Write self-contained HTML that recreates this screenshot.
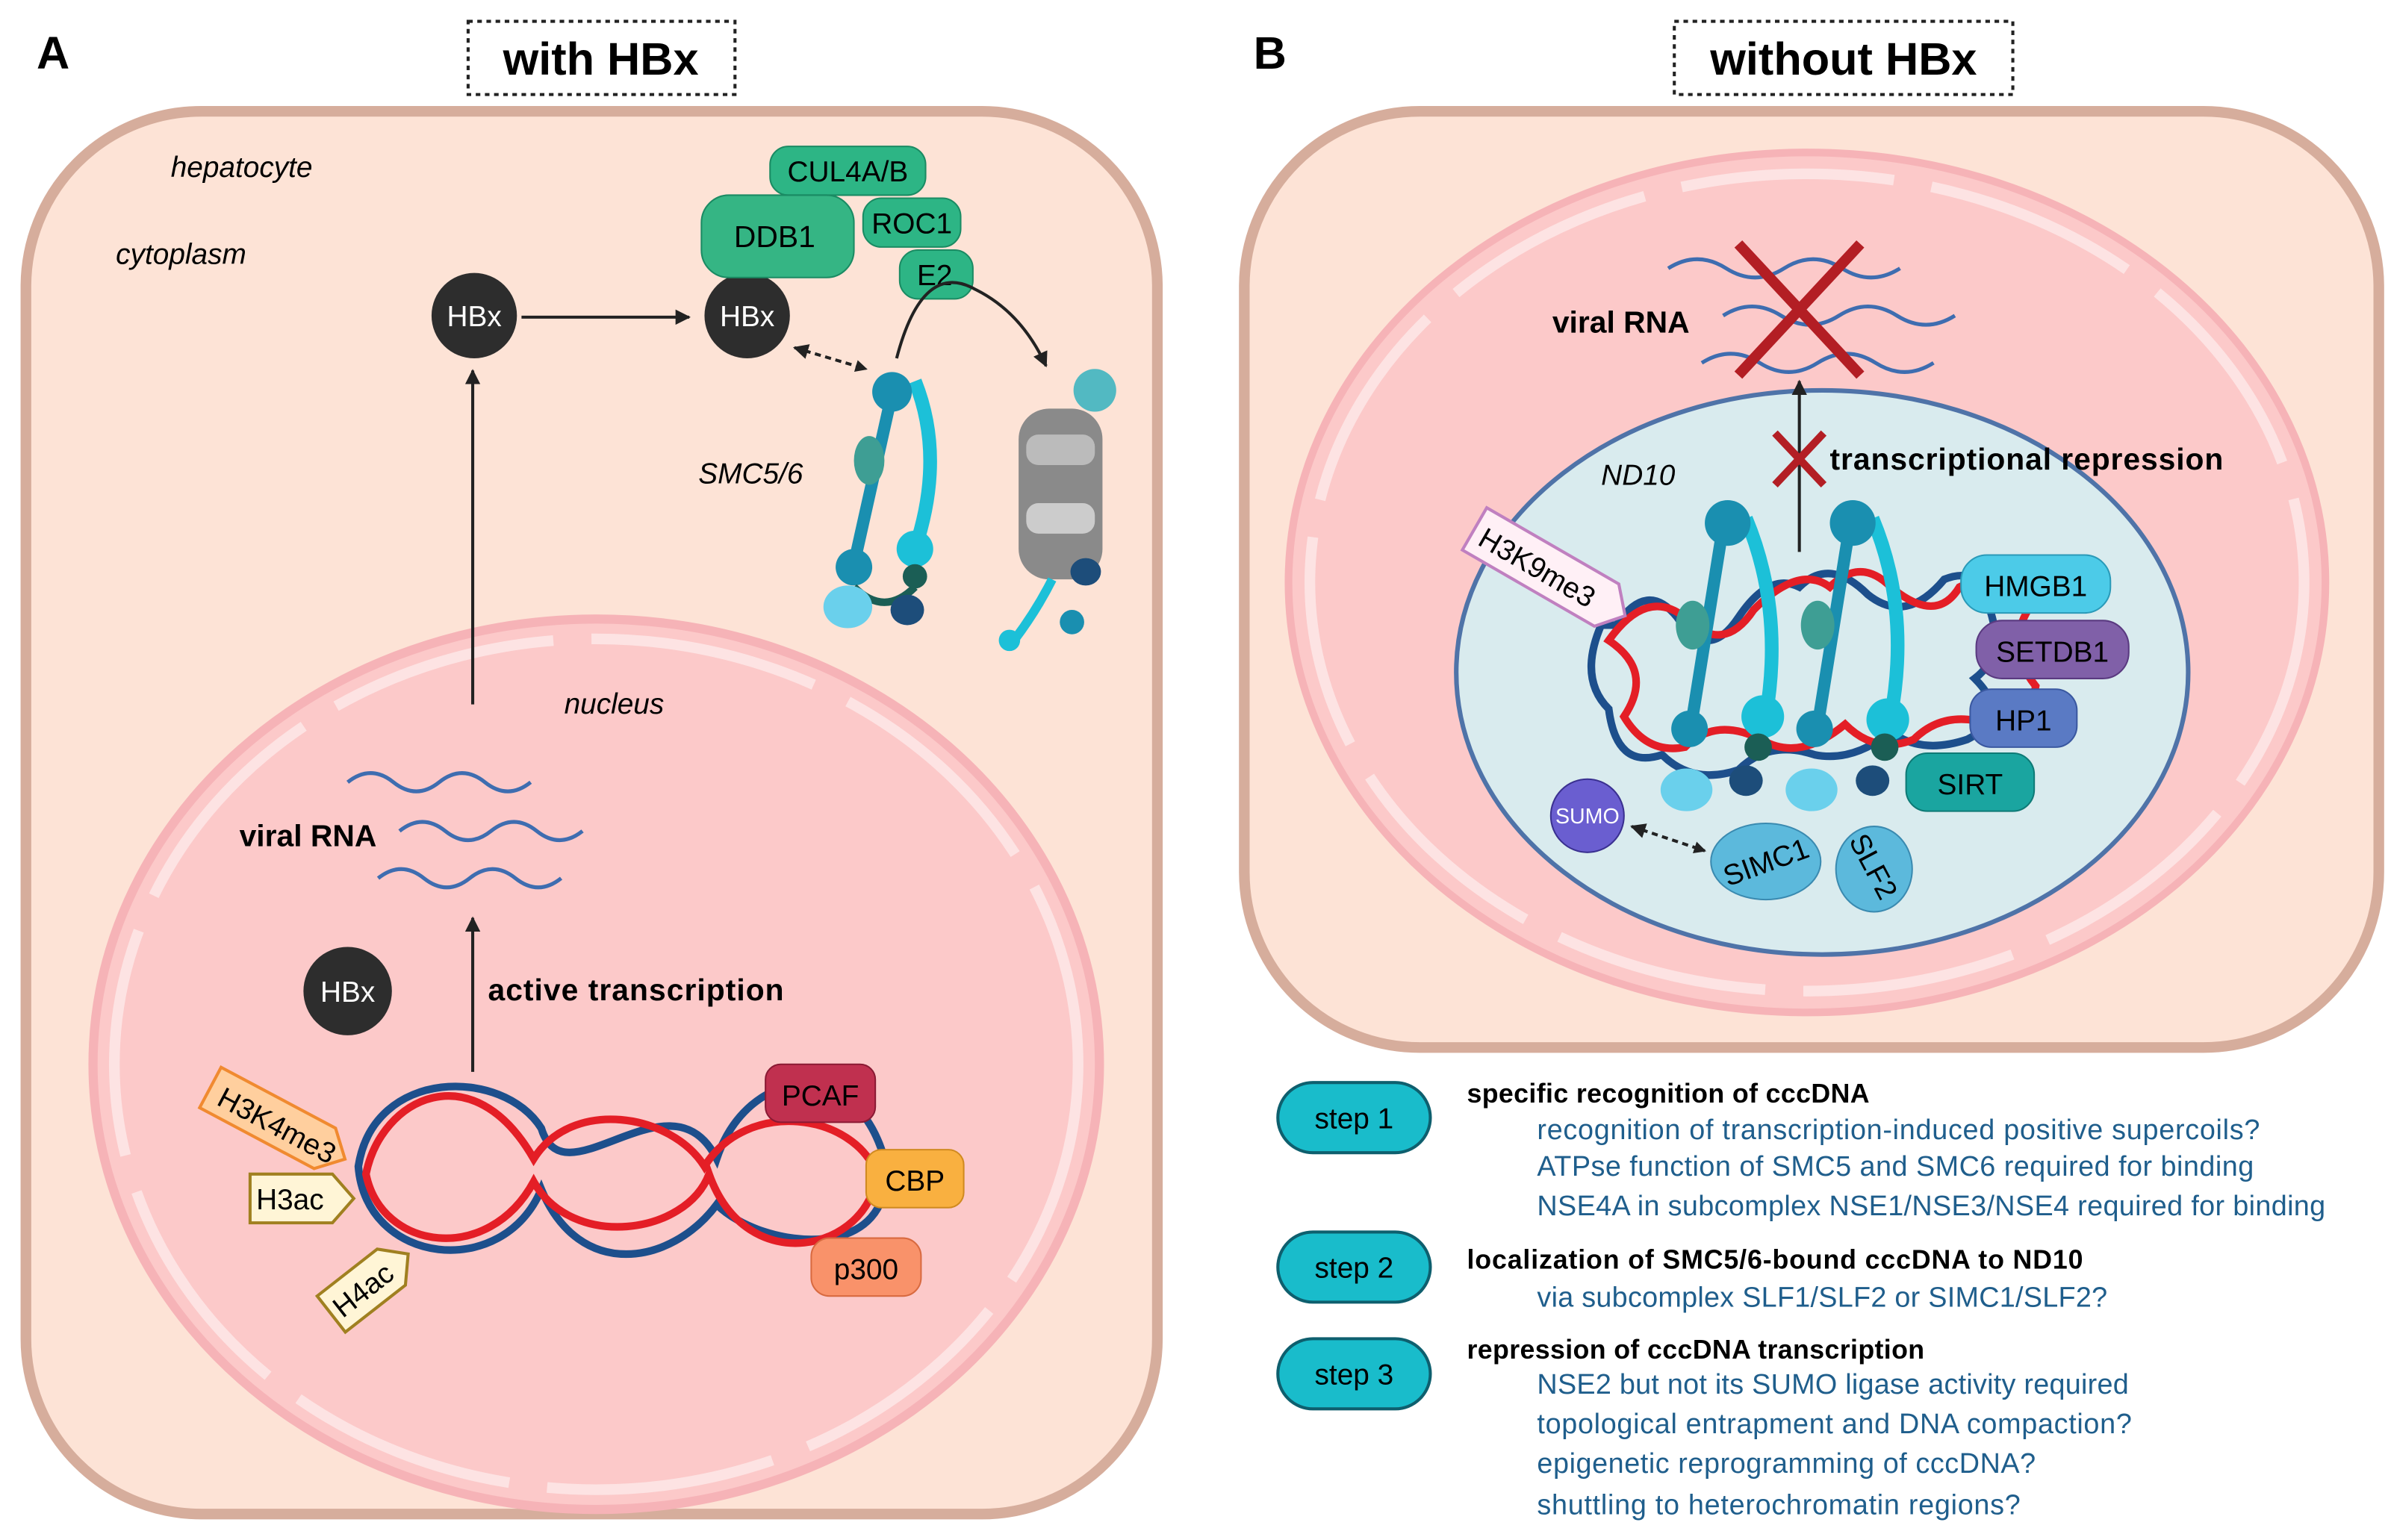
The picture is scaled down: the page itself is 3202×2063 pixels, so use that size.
<!DOCTYPE html>
<html><head><meta charset="utf-8"><style>
html,body{margin:0;padding:0;background:#fff}
svg{display:block}
text{font-family:"Liberation Sans",sans-serif}
</style></head><body>
<svg width="3202" height="2063" viewBox="0 0 1568 1010" preserveAspectRatio="none" xmlns="http://www.w3.org/2000/svg">
<defs>
<marker id="ar" markerWidth="8" markerHeight="8" refX="7" refY="4" orient="auto" markerUnits="userSpaceOnUse"><path d="M0,0 L8,4 L0,8 Z" fill="#222"/></marker>
<marker id="ar2" markerWidth="10" markerHeight="10" refX="9" refY="5" orient="auto" markerUnits="userSpaceOnUse"><path d="M0,0 L10,5 L0,10 Z" fill="#222"/></marker>
<marker id="ars" markerWidth="10" markerHeight="10" refX="1" refY="5" orient="auto" markerUnits="userSpaceOnUse"><path d="M10,0 L0,5 L10,10 Z" fill="#222"/></marker>
</defs>
<rect width="1568" height="1010" fill="#fff"/>

<!-- Panel A -->
<text x="24" y="45" font-size="30" font-weight="bold">A</text>
<rect x="307" y="14" width="175" height="48" fill="#fff" stroke="#222" stroke-width="2" stroke-dasharray="3,3"/>
<text x="394" y="49" font-size="30" font-weight="bold" text-anchor="middle">with HBx</text>
<rect x="17" y="73" width="742" height="920" rx="115" fill="#fde3d6" stroke="#d6ad9c" stroke-width="7"/>
<text x="112" y="116" font-size="19" font-style="italic">hepatocyte</text>
<text x="76" y="173" font-size="19" font-style="italic">cytoplasm</text>
<ellipse cx="391" cy="698" rx="330" ry="292" fill="#fcc9c9" stroke="#f6b3b7" stroke-width="6"/>
<ellipse cx="391" cy="698" rx="316" ry="279" fill="none" stroke="#fde3e3" stroke-width="7" stroke-dasharray="150,25"/>
<text x="370" y="468" font-size="19" font-style="italic">nucleus</text>

<circle cx="311" cy="207" r="28" fill="#2d2d2d"/><text x="311" y="214" font-size="19" fill="#fff" text-anchor="middle">HBx</text>
<circle cx="490" cy="207" r="28" fill="#2d2d2d"/><text x="490" y="214" font-size="19" fill="#fff" text-anchor="middle">HBx</text>
<line x1="342" y1="208" x2="452" y2="208" stroke="#222" stroke-width="2" marker-end="url(#ar2)"/>
<line x1="310" y1="462" x2="310" y2="243" stroke="#222" stroke-width="2" marker-end="url(#ar2)"/>
<line x1="521" y1="228" x2="568" y2="242" stroke="#222" stroke-width="2" stroke-dasharray="4,3" marker-end="url(#ar)" marker-start="url(#ars)"/>
<rect x="505" y="96" width="102" height="32" rx="12" fill="#2db585" stroke="#1a8b63"/>
<text x="556" y="119" font-size="19" text-anchor="middle">CUL4A/B</text>
<rect x="460" y="128" width="100" height="54" rx="18" fill="#35b584" stroke="#1a8b63"/>
<text x="508" y="162" font-size="20" text-anchor="middle">DDB1</text>
<rect x="566" y="130" width="64" height="32" rx="12" fill="#2db585" stroke="#1a8b63"/>
<text x="598" y="153" font-size="19" text-anchor="middle">ROC1</text>
<rect x="590" y="164" width="48" height="32" rx="12" fill="#2db585" stroke="#1a8b63"/>
<text x="613" y="187" font-size="19" text-anchor="middle">E2</text>
<path d="M588,235 Q605,170 640,190 Q670,205 686,240" fill="none" stroke="#222" stroke-width="2" marker-end="url(#ar2)"/>
<text x="458" y="317" font-size="19" font-style="italic">SMC5/6</text>
<path d="M585,258 L560,370" stroke="#1a8fb0" stroke-width="8" fill="none"/>
<path d="M600,250 Q620,300 600,360" stroke="#1cc0d8" stroke-width="9" fill="none"/>
<circle cx="585" cy="257" r="13" fill="#1a8fb0"/><circle cx="600" cy="360" r="12" fill="#1cc0d8"/><circle cx="560" cy="372" r="12" fill="#1a8fb0"/>
<path d="M560,385 q20,20 40,0" stroke="#1b5e55" stroke-width="5" fill="none"/><circle cx="600" cy="378" r="8" fill="#1b5e55"/>
<ellipse cx="556" cy="398" rx="16" ry="14" fill="#6ad0ec"/><ellipse cx="595" cy="400" rx="11" ry="10" fill="#1d4d7a"/>
<ellipse cx="570" cy="302" rx="10" ry="16" fill="#3e9e94"/>
<rect x="668" y="268" width="55" height="112" rx="20" fill="#8a8a8a"/>
<rect x="673" y="285" width="45" height="20" fill="#bbb" rx="8"/><rect x="673" y="330" width="45" height="20" fill="#ccc" rx="8"/>
<path d="M690,380 Q680,400 665,420" stroke="#1cc0d8" stroke-width="6" fill="none"/><circle cx="662" cy="420" r="7" fill="#1cc0d8"/><circle cx="703" cy="408" r="8" fill="#1a8fb0"/>
<ellipse cx="718" cy="256" rx="14" ry="14" fill="#52b9c2"/><ellipse cx="712" cy="375" rx="10" ry="9" fill="#1d4d7a"/>

<g fill="none" stroke="#3e6db0" stroke-width="2.5">
<path d="M228,513 q15,-12 30,0 t30,0 t30,0 t30,0"/>
<path d="M262,545 q15,-12 30,0 t30,0 t30,0 t30,0"/>
<path d="M248,576 q15,-12 30,0 t30,0 t30,0 t30,0"/>
</g>
<text x="157" y="555" font-size="20" font-weight="bold">viral RNA</text>
<line x1="310" y1="703" x2="310" y2="602" stroke="#222" stroke-width="2" marker-end="url(#ar2)"/>
<text x="320" y="656" font-size="20" font-weight="bold" textLength="194">active transcription</text>
<circle cx="228" cy="650" r="29" fill="#2d2d2d"/><text x="228" y="657" font-size="19" fill="#fff" text-anchor="middle">HBx</text>
<g fill="none" stroke-width="5" stroke-linecap="round">
<path d="M235,765 C245,700 330,700 355,740 C370,790 440,700 470,760 C490,700 560,690 580,760 C590,830 500,820 470,790 C440,830 380,840 355,780 C330,840 240,830 235,765Z" stroke="#1d4f8c"/>
<path d="M240,770 C250,720 310,690 350,760 C375,720 440,730 462,765 C490,720 560,730 575,770 C570,820 490,840 465,770 C450,810 375,820 350,775 C320,830 250,820 240,770Z" stroke="#e41e26"/>
</g>
<g transform="translate(145,700) rotate(28)"><path d="M0,0 L85,0 L100,15 L85,30 L0,30Z" fill="#ffcf9e" stroke="#f08a30" stroke-width="2"/><text x="8" y="23" font-size="19">H3K4me3</text></g>
<path d="M164,770 L218,770 L232,786 L218,802 L164,802Z" fill="#fff5d6" stroke="#a08020" stroke-width="2"/><text x="168" y="793" font-size="19">H3ac</text>
<g transform="translate(208,850) rotate(-38)"><path d="M0,0 L50,0 L64,15 L50,30 L0,30Z" fill="#fff5d6" stroke="#a08020" stroke-width="2"/><text x="4" y="22" font-size="19">H4ac</text></g>
<rect x="502" y="698" width="72" height="38" rx="10" fill="#c0304f" stroke="#8a1a34"/><text x="538" y="725" font-size="19" text-anchor="middle">PCAF</text>
<rect x="568" y="754" width="64" height="38" rx="10" fill="#f9b040" stroke="#d08a20"/><text x="600" y="781" font-size="19" text-anchor="middle">CBP</text>
<rect x="532" y="812" width="72" height="38" rx="12" fill="#f9926a" stroke="#d86a40"/><text x="568" y="839" font-size="19" text-anchor="middle">p300</text>

<!-- Panel B -->
<text x="822" y="45" font-size="30" font-weight="bold">B</text>
<rect x="1098" y="14" width="222" height="48" fill="#fff" stroke="#222" stroke-width="2" stroke-dasharray="3,3"/>
<text x="1209" y="49" font-size="30" font-weight="bold" text-anchor="middle">without HBx</text>
<rect x="816" y="73" width="744" height="614" rx="115" fill="#fde3d6" stroke="#d6ad9c" stroke-width="7"/>
<ellipse cx="1185" cy="382" rx="340" ry="282" fill="#fcc9c9" stroke="#f6b3b7" stroke-width="5"/>
<ellipse cx="1185" cy="382" rx="326" ry="268" fill="none" stroke="#fde3e3" stroke-width="7" stroke-dasharray="140,25"/>
<ellipse cx="1195" cy="441" rx="240" ry="185" fill="#d9ebee" stroke="#4f73a8" stroke-width="3"/>
<text x="1050" y="318" font-size="19" font-style="italic">ND10</text>
<g fill="none" stroke="#3e6db0" stroke-width="2.5">
<path d="M1094,176 q19,-12 38,0 t38,0 t38,0 t38,0"/>
<path d="M1130,207 q19,-12 38,0 t38,0 t38,0 t38,0"/>
<path d="M1116,238 q19,-12 38,0 t38,0 t38,0 t38,0"/>
</g>
<g stroke="#b31e24" stroke-width="7"><line x1="1140" y1="160" x2="1220" y2="246"/><line x1="1220" y1="160" x2="1140" y2="246"/></g>
<text x="1018" y="218" font-size="20" font-weight="bold">viral RNA</text>
<line x1="1180" y1="362" x2="1180" y2="250" stroke="#222" stroke-width="2" marker-end="url(#ar2)"/>
<g stroke="#b31e24" stroke-width="5"><line x1="1164" y1="284" x2="1196" y2="318"/><line x1="1196" y1="284" x2="1164" y2="318"/></g>
<text x="1200" y="308" font-size="20" font-weight="bold" textLength="258">transcriptional repression</text>
<g fill="none" stroke-width="5" stroke-linecap="round">
<path d="M1060,410 q20,-30 40,-5 q20,30 40,0 q20,-30 40,-20 q20,-20 45,5 q25,20 50,-10 q25,-10 30,20 q10,30 -10,45 q25,25 -5,40 q-30,10 -50,-5 q-25,20 -50,15 q-30,-10 -50,10 q-30,10 -50,-10 q-30,10 -35,-30 q-20,-20 -5,-55Z" stroke="#1d4f8c"/>
<path d="M1055,420 q25,-35 50,-15 q25,25 45,-5 q30,-30 50,-15 q20,-20 40,0 q30,25 45,0 q30,-15 45,15 q-15,25 5,50 q-5,30 -30,25 q-30,-10 -50,10 q-25,10 -45,-10 q-30,25 -55,10 q-30,-15 -50,5 q-25,5 -40,-20 q20,-30 -10,-50Z" stroke="#e41e26"/>
</g>
<g>
<path d="M1130,345 L1110,470" stroke="#1a8fb0" stroke-width="8"/><path d="M1145,340 Q1170,400 1158,470" stroke="#1cc0d8" stroke-width="9" fill="none"/>
<circle cx="1133" cy="343" r="15" fill="#1a8fb0"/><circle cx="1156" cy="470" r="14" fill="#1cc0d8"/><circle cx="1108" cy="478" r="12" fill="#1a8fb0"/><circle cx="1153" cy="490" r="9" fill="#1b5e55"/>
<ellipse cx="1106" cy="518" rx="17" ry="14" fill="#6ad0ec"/><ellipse cx="1145" cy="512" rx="11" ry="10" fill="#1d4d7a"/><ellipse cx="1110" cy="410" rx="11" ry="16" fill="#3e9e94"/>
<path d="M1213,345 L1193,470" stroke="#1a8fb0" stroke-width="8"/><path d="M1228,340 Q1253,400 1240,470" stroke="#1cc0d8" stroke-width="9" fill="none"/>
<circle cx="1215" cy="343" r="15" fill="#1a8fb0"/><circle cx="1238" cy="472" r="14" fill="#1cc0d8"/><circle cx="1190" cy="478" r="12" fill="#1a8fb0"/><circle cx="1236" cy="490" r="9" fill="#1b5e55"/>
<ellipse cx="1188" cy="518" rx="17" ry="14" fill="#6ad0ec"/><ellipse cx="1228" cy="512" rx="11" ry="10" fill="#1d4d7a"/><ellipse cx="1192" cy="410" rx="11" ry="16" fill="#3e9e94"/>
</g>
<g transform="translate(975,333) rotate(30)"><path d="M0,0 L100,0 L114,16 L100,32 L0,32Z" fill="#fff0f6" stroke="#c080c0" stroke-width="2"/><text x="6" y="24" font-size="19">H3K9me3</text></g>
<rect x="1286" y="364" width="98" height="38" rx="17" fill="#4ccbe8" stroke="#2a9ab8"/><text x="1335" y="391" font-size="19" text-anchor="middle">HMGB1</text>
<rect x="1296" y="407" width="100" height="38" rx="17" fill="#8060a8" stroke="#5a3a80"/><text x="1346" y="434" font-size="19" text-anchor="middle">SETDB1</text>
<rect x="1292" y="452" width="70" height="38" rx="14" fill="#5a7ac4" stroke="#3a58a0"/><text x="1327" y="479" font-size="19" text-anchor="middle">HP1</text>
<rect x="1250" y="494" width="84" height="38" rx="14" fill="#1aa5a0" stroke="#0e7a76"/><text x="1292" y="521" font-size="19" text-anchor="middle">SIRT</text>
<circle cx="1041" cy="535" r="24" fill="#6a5ed0" stroke="#3a3090"/><text x="1041" y="540" font-size="14" fill="#fff" text-anchor="middle">SUMO</text>
<line x1="1070" y1="542" x2="1118" y2="558" stroke="#222" stroke-width="2" stroke-dasharray="4,3" marker-end="url(#ar)" marker-start="url(#ars)"/>
<ellipse cx="1158" cy="565" rx="36" ry="25" fill="#5cb9dc" stroke="#3a8ab0"/>
<ellipse cx="1229" cy="570" rx="25" ry="28" fill="#5cb9dc" stroke="#3a8ab0"/>
<text x="1158" y="572" font-size="19" text-anchor="middle" transform="rotate(-20 1158 565)">SIMC1</text>
<text x="1229" y="575" font-size="19" text-anchor="middle" transform="rotate(62 1229 568)">SLF2</text>

<g font-size="19">
<rect x="838" y="710" width="100" height="46" rx="23" fill="#19bccb" stroke="#0e5f6e" stroke-width="2"/><text x="888" y="740" text-anchor="middle">step 1</text>
<rect x="838" y="808" width="100" height="46" rx="23" fill="#19bccb" stroke="#0e5f6e" stroke-width="2"/><text x="888" y="838" text-anchor="middle">step 2</text>
<rect x="838" y="878" width="100" height="46" rx="23" fill="#19bccb" stroke="#0e5f6e" stroke-width="2"/><text x="888" y="908" text-anchor="middle">step 3</text>
<g font-weight="bold" font-size="17.5">
<text x="962" y="723" textLength="264">specific recognition of cccDNA</text>
<text x="962" y="832" textLength="404">localization of SMC5/6-bound cccDNA to ND10</text>
<text x="962" y="891" textLength="300">repression of cccDNA transcription</text>
</g>
<g fill="#1f5e8c" font-size="18.5">
<text x="1008" y="747" textLength="474">recognition of transcription-induced positive supercoils?</text>
<text x="1008" y="771" textLength="470">ATPse function of SMC5 and SMC6 required for binding</text>
<text x="1008" y="797" textLength="517">NSE4A in subcomplex NSE1/NSE3/NSE4 required for binding</text>
<text x="1008" y="857" textLength="374">via subcomplex SLF1/SLF2 or SIMC1/SLF2?</text>
<text x="1008" y="914" textLength="388">NSE2 but not its SUMO ligase activity required</text>
<text x="1008" y="940" textLength="390">topological entrapment and DNA compaction?</text>
<text x="1008" y="966" textLength="327">epigenetic reprogramming of cccDNA?</text>
<text x="1008" y="993" textLength="317">shuttling to heterochromatin regions?</text>
</g>
</g>
</svg>
</body></html>
